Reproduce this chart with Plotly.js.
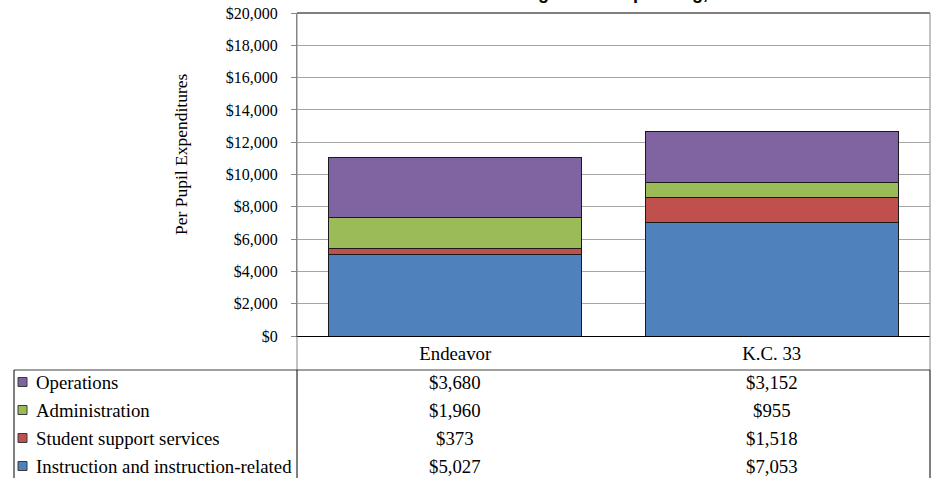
<!DOCTYPE html>
<html>
<head>
<meta charset="utf-8">
<script src="https://cdn.plot.ly/plotly-3.0.1.min.js"></script>
<style>html,body{margin:0;padding:0;background:#fff;}#chart{width:935px;height:478px;}</style>
</head>
<body>
<div id="chart"></div>
<script>
// ---- data ----
const schools = ["Endeavor", "K.C. 33"];
const seriesNames = ["Instruction and instruction-related", "Student support services", "Administration", "Operations"];
const instruction = [5027, 7053];
const studentSupport = [373, 1518];
const administration = [1960, 955];
const operations = [3680, 3152];
const seriesColors = ["#4F81BD", "#C0504D", "#9BBB59", "#8064A2"];
const yTickVals = [0, 2000, 4000, 6000, 8000, 10000, 12000, 14000, 16000, 18000, 20000];
const yTickText = ["$0", "$2,000", "$4,000", "$6,000", "$8,000", "$10,000", "$12,000", "$14,000", "$16,000", "$18,000", "$20,000"];
const titleText = "Funding Levels: Spending, 2010-11";
const yTitle = "Per Pupil Expenditures";

// ---- geometry helpers (pixel -> paper) ----
const W = 935, H = 478, mT = 13, mB = 0, mL = 0, mR = 5;
const PW = W - mL - mR, PH = H - mT - mB;
const px = x => (x - mL) / PW;
const py = y => (H - mB - y) / PH;

const serif = "Liberation Serif";
const fsTick = 16, fsTable = 18.8, fsTitle = 17.5;

const seriesValues = [instruction, studentSupport, administration, operations];
const traces = seriesNames.map((name, i) => ({
  type: "bar",
  name: name,
  x: schools,
  y: seriesValues[i],
  marker: {color: seriesColors[i], line: {color: "#1a1a1a", width: 1}},
  hoverinfo: "none"
}));

// table rows, top to bottom: Operations, Administration, Student support, Instruction
const rowOrder = [3, 2, 1, 0];
const rowY = [382, 410, 438, 466];
const annotations = [];
const shapes = [];

rowOrder.forEach((si, r) => {
  annotations.push({
    xref: "paper", yref: "paper", x: px(34), y: py(rowY[r]),
    xanchor: "left", yanchor: "middle", showarrow: false,
    text: seriesNames[si], font: {family: serif, size: fsTable, color: "#000"}
  });
  schools.forEach((s, j) => {
    annotations.push({
      xref: "x", yref: "paper", x: s, y: py(rowY[r]),
      xanchor: "center", yanchor: "middle", showarrow: false,
      text: "$" + seriesValues[si][j].toLocaleString("en-US"),
      font: {family: serif, size: fsTable, color: "#000"}
    });
  });
  shapes.push({
    type: "rect", xref: "paper", yref: "paper",
    x0: px(18), x1: px(27), y0: py(rowY[r] + 4.5), y1: py(rowY[r] - 4.5),
    fillcolor: seriesColors[si], line: {color: "#3a3a3a", width: 1}
  });
});

// y-axis title
annotations.push({
  xref: "paper", yref: "paper", x: px(181), y: py(154),
  xanchor: "center", yanchor: "middle", showarrow: false, textangle: -90,
  text: yTitle, font: {family: serif, size: fsTitle, color: "#000"}
});
// chart title (clipped at top in reference)
annotations.push({
  xref: "paper", yref: "paper", x: px(628), y: py(5),
  xanchor: "center", yanchor: "bottom", showarrow: false,
  text: "<b>" + titleText + "</b>",
  font: {family: "Liberation Sans", size: 18, color: "#000"}
});

// frame / table lines
const line = (x0, y0, x1, y1, c) => shapes.push({
  type: "line", xref: "paper", yref: "paper",
  x0: px(x0), y0: py(y0), x1: px(x1), y1: py(y1), line: {color: c, width: 1}
});
line(297, 13, 930, 13, "#000");        // plot top
line(297, 13, 297, 370, "#868686");    // left of plot + category row
line(930, 13, 930, 370, "#868686");    // right of plot + category row
line(14, 370, 930, 370, "#404040");    // table top
line(14, 370, 14, 478, "#000");        // table left
line(297, 370, 297, 478, "#000");      // table divider
line(930, 370, 930, 478, "#000");      // table right

const layout = {
  width: W, height: H,
  margin: {l: mL, r: mR, t: mT, b: mB, pad: 0},
  paper_bgcolor: "#fff", plot_bgcolor: "#fff",
  barmode: "stack", bargap: 0.2,
  showlegend: false,
  font: {family: serif, size: fsTick, color: "#000"},
  xaxis: {
    domain: [px(297), px(930)],
    anchor: "y",
    type: "category",
    showline: true, linecolor: "#000", linewidth: 1,
    ticks: "", ticklabelstandoff: 0,
    tickfont: {family: serif, size: fsTable, color: "#000"},
    showgrid: false, zeroline: false, fixedrange: true
  },
  yaxis: {
    domain: [py(336), 1],
    range: [0, 20000],
    tickmode: "array",
    tickvals: yTickVals,
    ticktext: yTickText,
    showline: true, linecolor: "#868686", linewidth: 1,
    ticks: "outside", ticklen: 5, tickcolor: "#868686",
    ticklabelstandoff: 10,
    tickfont: {family: serif, size: fsTick, color: "#000"},
    showgrid: true, gridcolor: "#a6a6a6", gridwidth: 1,
    zeroline: false, fixedrange: true
  },
  annotations: annotations,
  shapes: shapes
};

Plotly.newPlot("chart", traces, layout, {staticPlot: true, displayModeBar: false});
</script>
</body>
</html>
